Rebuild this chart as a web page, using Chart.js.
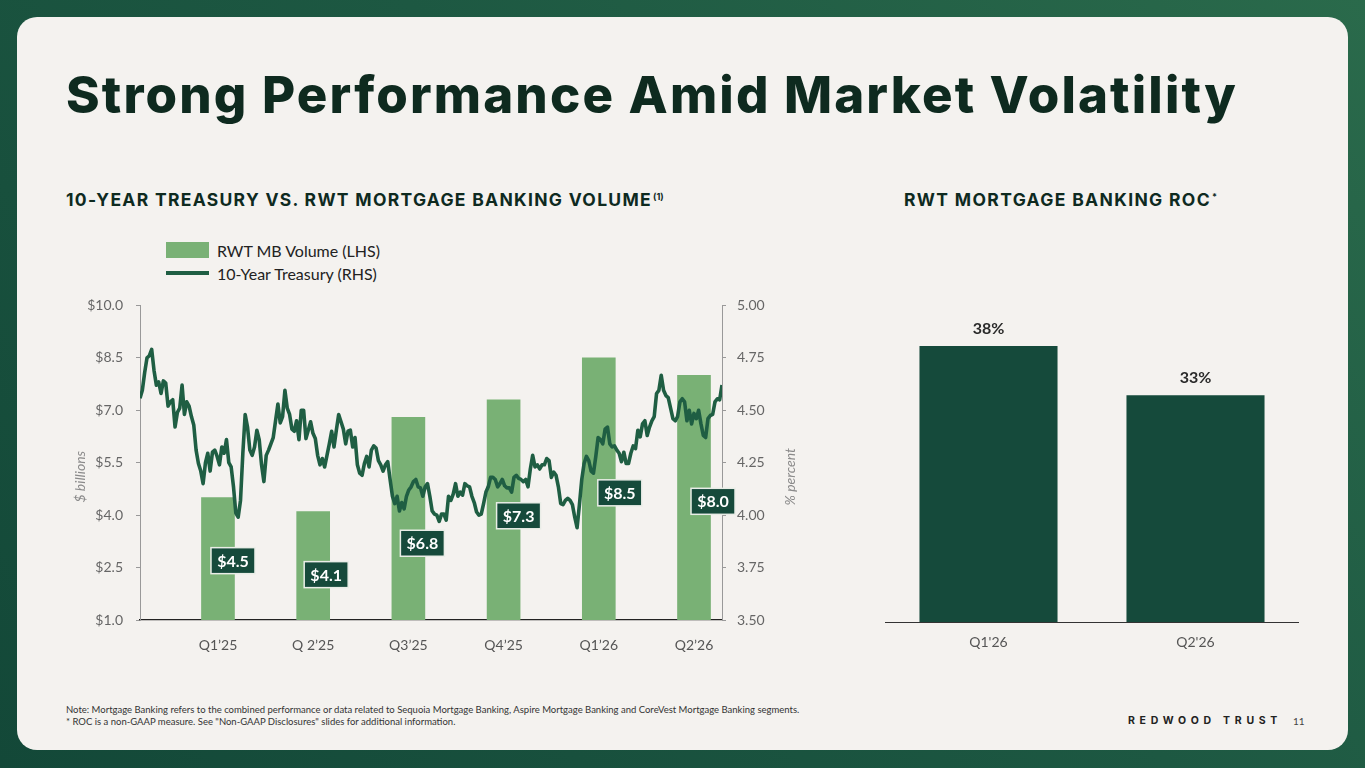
<!DOCTYPE html>
<html>
<head>
<meta charset="utf-8">
<script src="https://cdn.jsdelivr.net/npm/chart.js@4.4.1/dist/chart.umd.min.js"></script>
<style>
  html, body { margin: 0; padding: 0; }
  body { width: 1365px; height: 768px; position: relative; overflow: hidden;
         background: linear-gradient(225deg, #2a6a4b 0%, #1d5842 45%, #134838 100%);
         font-family: Lato, "Noto Sans", sans-serif; }
  #card { position: absolute; left: 17px; top: 17px; width: 1331px; height: 733px;
          background: #f4f2ef; border-radius: 20px; }
  .abs { position: absolute; white-space: nowrap; }
  #title { left: 66px; top: 68px; font-family: Inter, sans-serif; font-weight: 800;
           font-size: 51px; line-height: 54px; color: #0e2a1f; }
  .sub { font-family: Inter, sans-serif; font-weight: 700; font-size: 17.5px; line-height: 20px;
         color: #0e2a1f; top: 187px; }
  .sub sup { font-size: 9px; vertical-align: 6px; letter-spacing: 0; margin-left: 1px; font-weight: 700; }
  #leg { left: 166px; top: 240px; font-size: 16px; color: #222; }
  .legrow { position: absolute; left: 0; height: 20px; display: flex; align-items: center; }
  .sw { width: 43px; margin-right: 8px; }
  #note { left: 66px; top: 704px; font-size: 9.5px; line-height: 11.5px; color: #333; }
  #brand { left: 1128px; top: 714px; font-family: Inter, sans-serif; font-weight: 700; font-size: 10.5px;
           letter-spacing: 4.7px; color: #222; line-height: 14px; }
  #pg { left: 1293px; top: 714px; font-size: 10px; color: #444; line-height: 14px; }
  canvas { position: absolute; }
</style>
</head>
<body>
<div id="card"></div>
<div id="title" class="abs">Strong Performance Amid Market Volatility</div>
<div id="sub1" class="abs sub" style="left:66px;"><span id="sub1t">10-YEAR TREASURY VS. RWT MORTGAGE BANKING VOLUME</span><sup>(1)</sup></div>
<div id="sub2" class="abs sub" style="left:904px;"><span id="sub2t">RWT MORTGAGE BANKING ROC</span><sup>*</sup></div>

<div id="leg" class="abs">
  <div class="legrow" style="top:0px;"><div class="sw" style="height:16px;background:#79b175;"></div><span>RWT MB Volume (LHS)</span></div>
  <div class="legrow" style="top:23px;"><div class="sw" style="height:4px;background:#1f5e43;"></div><span>10-Year Treasury (RHS)</span></div>
</div>

<canvas id="left" width="760" height="368" style="left:60px; top:284px; width:760px; height:368px;"></canvas>
<canvas id="right" width="414" height="352" style="left:885px; top:300px; width:414px; height:352px;"></canvas>

<div id="note" class="abs">Note: Mortgage Banking refers to the combined performance or data related to Sequoia Mortgage Banking, Aspire Mortgage Banking and CoreVest Mortgage Banking segments.<br>* ROC is a non-GAAP measure. See "Non-GAAP Disclosures" slides for additional information.</div>
<div id="brand" class="abs">REDWOOD TRUST</div>
<div id="pg" class="abs">11</div>

<script>
// ---------------- DATA ----------------
const quarters = ["Q1\u201925", "Q 2\u201925", "Q3\u201925", "Q4\u201925", "Q1\u201926", "Q2\u201926"];
const mbVolume = [4.5, 4.1, 6.8, 7.3, 8.5, 8.0];           // $ billions (LHS)
const treasury10y = [                                      // % (RHS), evenly spaced observations
  4.557, 4.595, 4.68, 4.75, 4.76, 4.79, 4.69, 4.62, 4.635, 4.58,
  4.64, 4.63, 4.52, 4.54, 4.55, 4.42, 4.49, 4.51, 4.62, 4.48,
  4.54, 4.52, 4.47, 4.43, 4.31, 4.246, 4.21, 4.15, 4.25, 4.295,
  4.21, 4.30, 4.31, 4.28, 4.24, 4.325, 4.295, 4.36, 4.25, 4.23,
  4.135, 4.01, 3.99, 4.07, 4.295, 4.48, 4.42, 4.31, 4.285, 4.325,
  4.405, 4.36, 4.24, 4.16, 4.285, 4.31, 4.34, 4.37, 4.45, 4.53,
  4.44, 4.47,
  4.595, 4.51, 4.48, 4.41, 4.40, 4.45, 4.36, 4.50, 4.50, 4.365,
  4.405, 4.445, 4.39, 4.365, 4.285, 4.24, 4.27, 4.23, 4.285, 4.34,
  4.40, 4.325, 4.405, 4.48, 4.445, 4.41, 4.34, 4.40, 4.405, 4.325,
  4.37, 4.24, 4.20, 4.19, 4.246, 4.28, 4.23, 4.31, 4.33, 4.32,
  4.26, 4.24, 4.21, 4.24, 4.255, 4.17, 4.09, 4.055, 4.09, 4.02,
  4.06, 4.03, 4.09, 4.12, 4.135, 4.16, 4.17, 4.135, 4.13, 4.09,
  4.135,
  4.15, 4.09, 4.02, 4.005, 4.00, 3.97, 4.005, 4.005, 3.976, 4.09,
  4.07, 4.10, 4.15, 4.09, 4.11, 4.095, 4.15, 4.14, 4.135, 4.09,
  4.06, 4.015, 4.00, 4.005, 4.055, 4.11, 4.135, 4.18, 4.18, 4.17,
  4.135, 4.15, 4.17, 4.14, 4.13, 4.13, 4.11, 4.18, 4.19, 4.175,
  4.17, 4.16, 4.17, 4.135, 4.22, 4.285, 4.23, 4.24, 4.22, 4.24,
  4.24, 4.27, 4.26, 4.18, 4.205, 4.19, 4.135, 4.055, 4.05, 4.07,
  4.08, 4.07, 4.05,
  3.99, 3.94, 4.05, 4.17, 4.246, 4.28, 4.26, 4.21, 4.20, 4.28,
  4.37, 4.36, 4.34, 4.41, 4.42, 4.34, 4.325, 4.33, 4.31, 4.295,
  4.255, 4.30, 4.246, 4.246, 4.295, 4.33, 4.317, 4.405, 4.373, 4.435,
  4.45, 4.38, 4.42, 4.45, 4.47, 4.58, 4.595, 4.667, 4.595, 4.57,
  4.56, 4.51, 4.46, 4.45, 4.47, 4.54, 4.555, 4.54, 4.45, 4.50,
  4.435, 4.485, 4.46, 4.50, 4.435, 4.38, 4.37, 4.46, 4.475, 4.48,
  4.54, 4.555, 4.55, 4.62
];
const rocQuarters = ["Q1'26", "Q2'26"];
const rocValues = [38, 33];                                 // %

// ---------------- LAYOUT HELPERS ----------------
function fitWidth(el, target) {
  const w = el.getBoundingClientRect().width;
  const n = el.textContent.length;
  const cur = parseFloat(getComputedStyle(el).letterSpacing) || 0;
  el.style.letterSpacing = (cur + (target - w) / n) + 'px';
}

const FONT = 'Lato, "Noto Sans", sans-serif';
const LIGHT = '#79b175', DARK = '#1f5e43', BOX = '#164a3b';

const boxLabels = {
  id: 'boxLabels',
  afterDatasetsDraw(chart, args, opts) {
    const meta = chart.getDatasetMeta(0);
    const ctx = chart.ctx;
    ctx.save();
    ctx.font = 'bold 16px ' + FONT;
    ctx.textAlign = 'center';
    ctx.textBaseline = 'middle';
    meta.data.forEach((bar, i) => {
      const w = 44, h = 26;
      const left = bar.x + opts.dx[i];
      const cy = bar.y + opts.dy[i];
      ctx.fillStyle = BOX;
      ctx.fillRect(left, cy - h / 2, w, h);
      ctx.strokeStyle = '#e9ede7';
      ctx.lineWidth = 1.5;
      ctx.strokeRect(left, cy - h / 2, w, h);
      ctx.fillStyle = '#ffffff';
      ctx.fillText('$' + mbVolume[i].toFixed(1), left + w / 2, cy + 1);
    });
    ctx.restore();
  }
};

const axisTitles = {
  id: 'axisTitles',
  afterDraw(chart) {
    const a = chart.chartArea, ctx = chart.ctx;
    const cy = (a.top + a.bottom) / 2 + 14;
    ctx.save();
    ctx.font = 'italic 14px ' + FONT;
    ctx.fillStyle = '#8a8a8a';
    ctx.textAlign = 'center';
    ctx.textBaseline = 'middle';
    [[a.left - 60, '$ billions'], [a.right + 68, '% percent']].forEach(([x, t]) => {
      ctx.save();
      ctx.translate(x, cy);
      ctx.rotate(-Math.PI / 2);
      ctx.fillText(t, 0, 0);
      ctx.restore();
    });
    ctx.restore();
  }
};

const topLabels = {
  id: 'topLabels',
  afterDatasetsDraw(chart) {
    const meta = chart.getDatasetMeta(0), ctx = chart.ctx;
    ctx.save();
    ctx.font = 'bold 16px ' + FONT;
    ctx.fillStyle = '#2a2a2a';
    ctx.textAlign = 'center';
    ctx.textBaseline = 'middle';
    meta.data.forEach((bar, i) => ctx.fillText(rocValues[i] + '%', bar.x, bar.y - 17));
    ctx.restore();
  }
};

Chart.defaults.font.family = FONT;
Chart.defaults.animation = false;

// ---------------- LEFT CHART ----------------
new Chart(document.getElementById('left'), {
  data: {
    datasets: [
      {
        type: 'bar', label: 'RWT MB Volume (LHS)',
        data: mbVolume.map((v, i) => ({ x: i, y: v })),
        backgroundColor: LIGHT, borderWidth: 0, barThickness: 33, grouped: false,
        xAxisID: 'x', yAxisID: 'y', order: 2
      },
      {
        type: 'line', label: '10-Year Treasury (RHS)',
        data: treasury10y.map((v, i) => ({ x: i, y: v })),
        borderColor: DARK, borderWidth: 3.6, pointRadius: 0, tension: 0,
        borderJoinStyle: 'round', xAxisID: 'xl', yAxisID: 'y1', order: 1
      }
    ]
  },
  options: {
    responsive: false,
    layout: { padding: { top: 9, left: 0, right: 0, bottom: 0 } },
    plugins: {
      legend: { display: false }, tooltip: { enabled: false },
      boxLabels: { dx: [-7, -9, -8, -7, -1, -3], dy: [63, 63, 126, 116, 135, 126] }
    },
    scales: {
      x: {
        type: 'linear', position: 'bottom', min: -0.819, max: 5.294, offset: false,
        afterBuildTicks: s => { s.ticks = quarters.map((q, i) => ({ value: i })); },
        afterFit: s => { s.height = 32; },
        ticks: { callback: v => quarters[v], color: '#555', font: { size: 14 }, padding: 17, autoSkip: false, maxRotation: 0 },
        grid: { display: false, drawTicks: false },
        border: { display: true, color: '#222', width: 1.2 }
      },
      xl: { type: 'linear', display: false, offset: false, min: 0, max: treasury10y.length - 1 },
      y: {
        position: 'left', min: 1, max: 10,
        afterFit: s => { s.width = 80; },
        ticks: { stepSize: 1.5, callback: v => '$' + v.toFixed(1), color: '#666', font: { size: 14 }, padding: 13 },
        grid: { drawOnChartArea: false, drawTicks: true, tickLength: 4, color: '#999' },
        border: { color: '#999' }
      },
      y1: {
        position: 'right', min: 3.5, max: 5,
        afterFit: s => { s.width = 98; },
        ticks: { stepSize: 0.25, callback: v => v.toFixed(2), color: '#666', font: { size: 14 }, padding: 11 },
        grid: { drawOnChartArea: false, drawTicks: true, tickLength: 4, color: '#999' },
        border: { color: '#999' }
      }
    }
  },
  plugins: [boxLabels, axisTitles]
});

// ---------------- RIGHT CHART ----------------
new Chart(document.getElementById('right'), {
  type: 'bar',
  data: {
    labels: rocQuarters,
    datasets: [{ label: 'RWT Mortgage Banking ROC', data: rocValues, backgroundColor: '#154a3b',
                 borderWidth: 0, barPercentage: 0.667, categoryPercentage: 1 }]
  },
  options: {
    responsive: false,
    layout: { padding: { top: 6.5, left: 0, right: 0, bottom: 0 } },
    plugins: { legend: { display: false }, tooltip: { enabled: false } },
    scales: {
      x: {
        afterFit: s => { s.height = 30; },
        ticks: { color: '#555', font: { size: 14 }, padding: 12 },
        grid: { display: false, drawTicks: false },
        border: { display: true, color: '#333', width: 1 }
      },
      y: { display: false, min: 10, max: 42 }
    }
  },
  plugins: [topLabels]
});

// ---------------- TEXT FITTING ----------------
fitWidth(document.getElementById('title'), 1172);
fitWidth(document.getElementById('sub1t'), 586);
fitWidth(document.getElementById('sub2t'), 307);
</script>
</body>
</html>
